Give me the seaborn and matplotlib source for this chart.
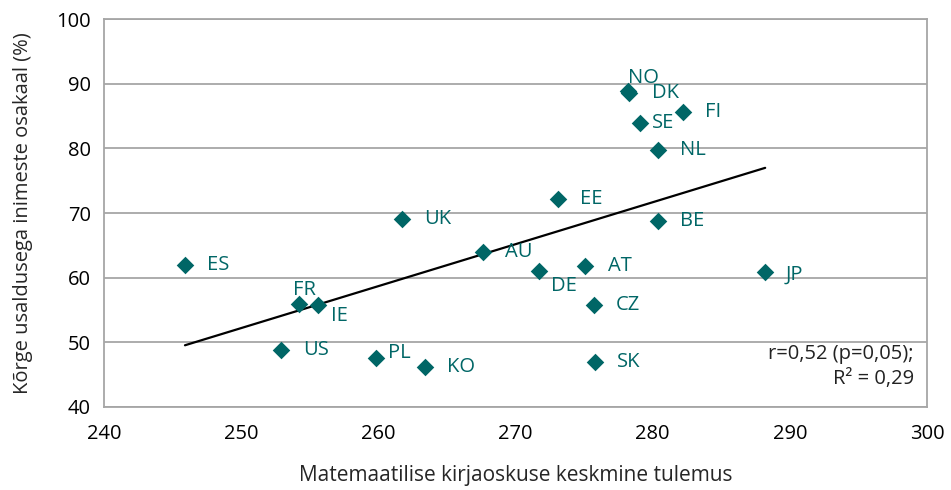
import pandas as pd
import matplotlib.pyplot as plt
import seaborn as sns

countries = ['ES', 'FR', 'IE', 'US', 'PL', 'KO', 'UK', 'AU', 'DE', 'AT',
             'CZ', 'SK', 'EE', 'BE', 'JP', 'NL', 'SE', 'FI', 'DK', 'NO']
math_score = [245.9, 254.2, 255.6, 252.9, 259.8, 263.4, 261.7, 267.6, 271.7, 275.1,
              275.7, 275.8, 273.1, 280.4, 288.2, 280.4, 279.1, 282.2, 278.3, 278.2]
trust_pct = [62.0, 55.9, 55.8, 48.8, 47.5, 46.2, 69.1, 63.9, 61.1, 61.8,
             55.7, 47.0, 72.1, 68.7, 60.8, 79.7, 83.9, 85.6, 88.6, 88.9]

df = pd.DataFrame({'country': countries, 'math': math_score, 'trust': trust_pct})

teal = '#006666'
grey = '#a6a6a6'

# label placement (points offset from marker, horizontal alignment)
label_pos = {'FR': (4, 10, 'center'), 'IE': (9, -8, 'left'), 'PL': (9, 4, 'left'),
             'DE': (9, -11, 'left'), 'NO': (0, 9, 'left'), 'SE': (8, 0, 'left'),
             'JP': (15, -1.5, 'left')}

sns.set_style('white')
plt.rcParams['font.family'] = ['Open Sans', 'DejaVu Sans']

fig = plt.figure(figsize=(9.51, 4.90), dpi=100)
ax = fig.add_axes([0.1094, 0.1694, 0.8654, 0.7918])

sns.regplot(x='math', y='trust', data=df, ax=ax, scatter=False, ci=None,
            line_kws={'color': 'black', 'lw': 1.6})
sns.scatterplot(x='math', y='trust', data=df, ax=ax, marker='D', s=80,
                color=teal, linewidth=0, zorder=3)

for c, xv, yv in zip(countries, math_score, trust_pct):
    dx, dy, ha = label_pos.get(c, (16, 0, 'left'))
    ax.annotate(c, (xv, yv), xytext=(dx, dy), textcoords='offset points',
                ha=ha, va='center', color=teal, fontsize=14.5)

ax.set_xlim(240, 300)
ax.set_ylim(40, 100)
ax.set_xticks(range(240, 301, 10))
ax.set_yticks(range(40, 101, 10))
ax.grid(axis='y', color=grey, lw=1.3)
ax.set_axisbelow(True)
for s in ax.spines.values():
    s.set_color(grey)
    s.set_linewidth(1.3)
ax.tick_params(axis='both', which='both', direction='out', length=4.5, width=1.3,
               color=grey, labelsize=14.5, labelcolor='black')
ax.tick_params(axis='x', pad=8)
ax.tick_params(axis='y', pad=5)
ax.set_xlabel('Matemaatilise kirjaoskuse keskmine tulemus', fontsize=15, labelpad=15)
ax.set_ylabel('Kõrge usaldusega inimeste osakaal (%)', fontsize=14.5, labelpad=17)

ax.text(0.984, 0.105, 'r=0,52 (p=0,05);\nR² = 0,29', transform=ax.transAxes,
        ha='right', va='center', fontsize=14.5, linespacing=1.3, color='#222222')

plt.savefig('out.png', dpi=100)
